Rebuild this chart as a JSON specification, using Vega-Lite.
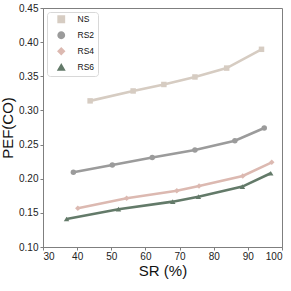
{
  "$schema": "https://vega.github.io/schema/vega-lite/v6.json",
  "width": 239,
  "height": 239,
  "autosize": {"type": "none"},
  "padding": {"left": 43, "top": 8, "right": 9, "bottom": 44},
  "background": "white",
  "config": {
    "font": "Liberation Sans",
    "view": {"stroke": "#7f7f7f", "strokeWidth": 1},
    "axis": {
      "grid": false,
      "domainColor": "#7f7f7f",
      "tickColor": "#7f7f7f",
      "tickSize": 3,
      "labelFontSize": 10,
      "labelColor": "#222222",
      "titleFontSize": 15,
      "titleFontWeight": "normal",
      "titleColor": "#111111"
    }
  },
  "data": {
    "values": [
      {"s": "NS", "x": 43.8, "y": 0.314},
      {"s": "NS", "x": 56.4, "y": 0.3285},
      {"s": "NS", "x": 65.4, "y": 0.338},
      {"s": "NS", "x": 74.5, "y": 0.349},
      {"s": "NS", "x": 83.8, "y": 0.362},
      {"s": "NS", "x": 94.0, "y": 0.3895},
      {"s": "RS2", "x": 38.9, "y": 0.2095},
      {"s": "RS2", "x": 50.3, "y": 0.220},
      {"s": "RS2", "x": 62.0, "y": 0.231},
      {"s": "RS2", "x": 74.5, "y": 0.242},
      {"s": "RS2", "x": 86.2, "y": 0.2557},
      {"s": "RS2", "x": 94.8, "y": 0.2743},
      {"s": "RS4", "x": 40.2, "y": 0.1567},
      {"s": "RS4", "x": 54.5, "y": 0.1714},
      {"s": "RS4", "x": 69.2, "y": 0.1825},
      {"s": "RS4", "x": 75.7, "y": 0.1894},
      {"s": "RS4", "x": 88.5, "y": 0.204},
      {"s": "RS4", "x": 97.0, "y": 0.224},
      {"s": "RS6", "x": 36.9, "y": 0.141},
      {"s": "RS6", "x": 52.1, "y": 0.1553},
      {"s": "RS6", "x": 68.0, "y": 0.1664},
      {"s": "RS6", "x": 75.5, "y": 0.1737},
      {"s": "RS6", "x": 88.4, "y": 0.1884},
      {"s": "RS6", "x": 96.7, "y": 0.208}
    ]
  },
  "encoding": {
    "x": {
      "field": "x", "type": "quantitative",
      "scale": {"domain": [30, 100], "nice": false, "zero": false},
      "axis": {"values": [30, 40, 50, 60, 70, 80, 90, 100], "title": "SR (%)", "titlePadding": 2, "labelPadding": 1}
    },
    "y": {
      "field": "y", "type": "quantitative",
      "scale": {"domain": [0.10, 0.45], "nice": false, "zero": false},
      "axis": {"values": [0.10, 0.15, 0.20, 0.25, 0.30, 0.35, 0.40, 0.45], "format": ".2f", "title": "PEF(CO)", "titlePadding": 3, "labelPadding": 2}
    }
  },
  "layer": [
    {
      "mark": {"type": "line", "strokeWidth": 2.6},
      "encoding": {
        "color": {
          "field": "s", "type": "nominal",
          "scale": {"domain": ["NS", "RS2", "RS4", "RS6"], "range": ["#d6ccc2", "#9b9b9b", "#dcb9b1", "#637a69"]},
          "legend": {
            "title": null,
            "orient": "top-left",
            "offset": 4,
            "padding": 3,
            "strokeColor": "#d8d8d8",
            "fillColor": "white",
            "cornerRadius": 3,
            "labelFontSize": 8.5,
            "labelColor": "#111111",
            "symbolSize": 40,
            "symbolOffset": 7,
            "rowPadding": 3,
            "labelOffset": 12
          }
        }
      }
    },
    {
      "mark": {"type": "point", "filled": true, "opacity": 1, "size": 30},
      "encoding": {
        "color": {"field": "s", "type": "nominal", "legend": null},
        "shape": {
          "field": "s", "type": "nominal",
          "scale": {"domain": ["NS", "RS2", "RS4", "RS6"], "range": ["square", "circle", "diamond", "triangle-up"]},
          "legend": null
        }
      }
    }
  ]
}
